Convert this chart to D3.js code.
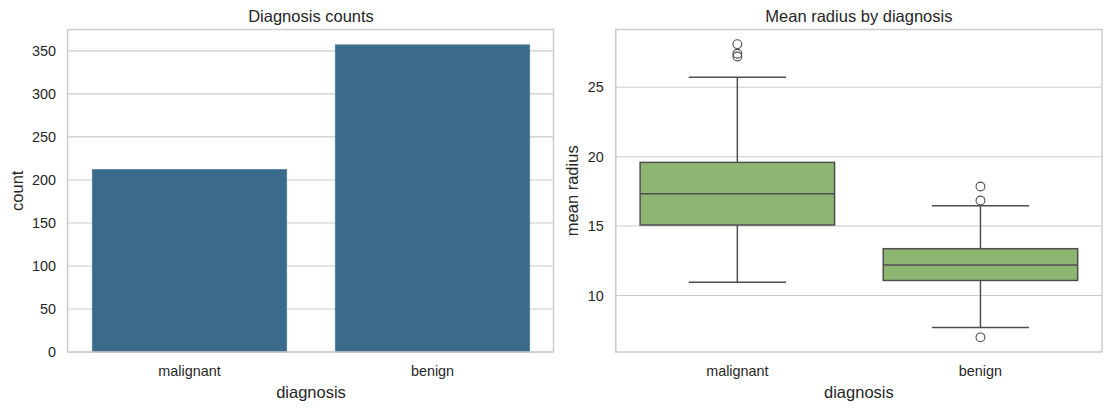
<!DOCTYPE html>
<html>
<head>
<meta charset="utf-8">
<script src="https://cdn.jsdelivr.net/npm/d3@7"></script>
<style>
  html, body { margin: 0; padding: 0; background: #ffffff; }
  svg { display: block; font-family: "Liberation Sans", Arial, sans-serif; }
</style>
</head>
<body>
<svg id="chart" width="1111" height="411"></svg>
<script>
// ---- data ----
const categories = ["malignant", "benign"];
const counts = [212, 357];
const countTicks = [0, 50, 100, 150, 200, 250, 300, 350];
// box stats: [whiskerLow, q1, median, q3, whiskerHigh]
const boxMalignant = [10.95, 15.075, 17.325, 19.59, 25.73];
const boxBenign = [7.691, 11.08, 12.2, 13.37, 16.46];
const outliersMalignant = [27.22, 27.42, 28.11];
const outliersBenign = [6.981, 16.84, 17.85];
const radiusTicks = [10, 15, 20, 25];
const radiusDataMin = 6.981, radiusDataMax = 28.11;

(function () {
const svg = d3.select("#chart");
const textColor = "#262626";
const gridColor = "#cccccc";
const barColor = "#3a6b8b";
const boxColor = "#8fb573";
const lineColor = "#4f4f4f";
const tickSize = "14.4px", labelSize = "16.5px";

const plotTop = 29.5, plotBottom = 352;

function frame(g, x0, x1) {
  g.append("rect").attr("x", x0).attr("y", plotTop).attr("width", x1 - x0).attr("height", plotBottom - plotTop)
    .attr("fill", "none").attr("stroke", gridColor).attr("stroke-width", 1.5);
}

function panel(opts) {
  const g = svg.append("g");
  const x = d3.scaleBand().domain(categories).range([opts.x0, opts.x1]).paddingInner(0).paddingOuter(0);
  const y = d3.scaleLinear().domain(opts.domain).range([plotBottom, plotTop]);
  g.append("g").selectAll("line").data(opts.ticks).join("line")
    .attr("x1", opts.x0).attr("x2", opts.x1)
    .attr("y1", d => y(d)).attr("y2", d => y(d))
    .attr("stroke", gridColor).attr("stroke-width", 1.1);
  const yAxis = d3.axisLeft(y).tickValues(opts.ticks).tickSize(0).tickPadding(12).tickFormat(d3.format("d"));
  const ya = g.append("g").attr("transform", `translate(${opts.x0},0)`).call(yAxis);
  ya.select(".domain").remove();
  ya.selectAll("text").attr("fill", textColor).style("font-size", tickSize).style("font-family", "Liberation Sans, Arial, sans-serif");
  const xAxis = d3.axisBottom(x).tickSize(0).tickPadding(13.7);
  const xa = g.append("g").attr("transform", `translate(0,${plotBottom})`).call(xAxis);
  xa.select(".domain").remove();
  xa.selectAll("text").attr("fill", textColor).style("font-size", tickSize).style("font-family", "Liberation Sans, Arial, sans-serif");
  const cx = (opts.x0 + opts.x1) / 2;
  g.append("text").attr("x", cx).attr("y", 22).attr("text-anchor", "middle")
    .attr("fill", textColor).style("font-size", labelSize).text(opts.title);
  g.append("text").attr("x", cx).attr("y", 398.3).attr("text-anchor", "middle")
    .attr("fill", textColor).style("font-size", labelSize).text("diagnosis");
  g.append("text").attr("transform", `translate(${opts.ylabX},${(plotTop + plotBottom) / 2}) rotate(-90)`)
    .attr("text-anchor", "middle").attr("fill", textColor).style("font-size", labelSize).text(opts.ylabel);
  return {g, x, y};
}

// ---- left: bar chart ----
const L = panel({x0: 68, x1: 554, domain: [0, d3.max(counts) * 1.05], ticks: countTicks,
  title: "Diagnosis counts", ylabel: "count", ylabX: 22.7});
const bw = L.x.bandwidth() * 0.8;
L.g.append("g").selectAll("rect").data(categories).join("rect")
  .attr("x", d => L.x(d) + (L.x.bandwidth() - bw) / 2)
  .attr("width", bw)
  .attr("y", (d, i) => L.y(counts[i]))
  .attr("height", (d, i) => L.y(0) - L.y(counts[i]))
  .attr("fill", barColor).attr("stroke", "#4f7d9a").attr("stroke-width", 0.8);
frame(L.g, 67.5, 553.5);

// ---- right: box plot ----
const pad = (radiusDataMax - radiusDataMin) * 0.05;
const R = panel({x0: 615.8, x1: 1102, domain: [radiusDataMin - pad, radiusDataMax + pad], ticks: radiusTicks,
  title: "Mean radius by diagnosis", ylabel: "mean radius", ylabX: 577.7});
const boxes = [boxMalignant, boxBenign];
const outs = [outliersMalignant, outliersBenign];
const bw2 = R.x.bandwidth() * 0.8;
categories.forEach((c, i) => {
  const s = boxes[i];
  const cx = R.x(c) + R.x.bandwidth() / 2;
  const gb = R.g.append("g");
  gb.append("line").attr("x1", cx).attr("x2", cx).attr("y1", R.y(s[0])).attr("y2", R.y(s[1]))
    .attr("stroke", lineColor).attr("stroke-width", 1.5);
  gb.append("line").attr("x1", cx).attr("x2", cx).attr("y1", R.y(s[3])).attr("y2", R.y(s[4]))
    .attr("stroke", lineColor).attr("stroke-width", 1.5);
  [s[0], s[4]].forEach(v => {
    gb.append("line").attr("x1", cx - bw2 / 4).attr("x2", cx + bw2 / 4).attr("y1", R.y(v)).attr("y2", R.y(v))
      .attr("stroke", lineColor).attr("stroke-width", 1.5);
  });
  gb.append("rect").attr("x", cx - bw2 / 2).attr("width", bw2)
    .attr("y", R.y(s[3])).attr("height", R.y(s[1]) - R.y(s[3]))
    .attr("fill", boxColor).attr("stroke", lineColor).attr("stroke-width", 1.5);
  gb.append("line").attr("x1", cx - bw2 / 2).attr("x2", cx + bw2 / 2).attr("y1", R.y(s[2])).attr("y2", R.y(s[2]))
    .attr("stroke", lineColor).attr("stroke-width", 1.5);
  gb.selectAll("circle").data(outs[i]).join("circle")
    .attr("cx", cx).attr("cy", d => R.y(d)).attr("r", 4.4)
    .attr("fill", "none").attr("stroke", lineColor).attr("stroke-width", 1.1);
});
frame(R.g, 615.8, 1102);
})();
</script>
</body>
</html>
